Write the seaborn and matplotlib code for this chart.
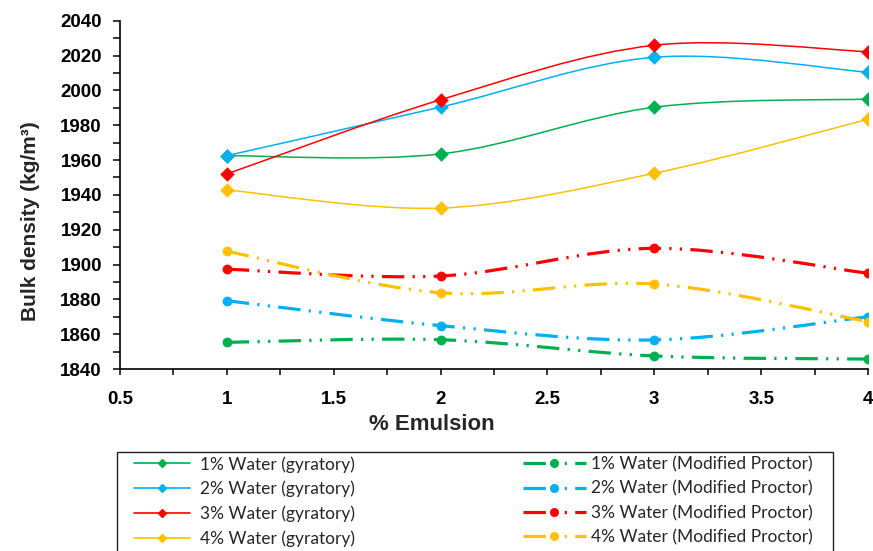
import numpy as np
import matplotlib
matplotlib.use("Agg")
import matplotlib.pyplot as plt
import seaborn as sns
from matplotlib.path import Path
from matplotlib.patches import PathPatch, Rectangle
from matplotlib.lines import Line2D
from matplotlib.ticker import MultipleLocator, FuncFormatter

# % emulsion content on the x axis
emulsion = [1, 2, 3, 4]

# Bulk density (kg/m3), gyratory compaction
gyr_1 = [1962.5, 1963.5, 1990.3, 1995.0]
gyr_2 = [1962.5, 1990.4, 2019.0, 2010.4]
gyr_3 = [1952.0, 1994.6, 2025.9, 2022.2]
gyr_4 = [1942.8, 1932.4, 1952.4, 1983.4]

# Bulk density (kg/m3), modified Proctor compaction
mp_1 = [1855.3, 1856.8, 1847.5, 1845.7]
mp_2 = [1879.2, 1864.9, 1856.7, 1870.0]
mp_3 = [1897.3, 1893.4, 1909.3, 1895.0]
mp_4 = [1907.6, 1883.8, 1888.8, 1867.2]

colors = ["#00B050", "#00B0F0", "#FF0000", "#FFC000"]
gyr_labels = ["1% Water (gyratory)", "2% Water (gyratory)",
              "3% Water (gyratory)", "4% Water (gyratory)"]
mp_labels = ["1% Water (Modified Proctor)", "2% Water (Modified Proctor)",
             "3% Water (Modified Proctor)", "4% Water (Modified Proctor)"]

sns.set_theme(style="ticks")
plt.rcParams["font.family"] = ["Liberation Sans", "DejaVu Sans"]

fig = plt.figure(figsize=(8.73, 5.51), dpi=100)
ax = fig.add_axes([120 / 873, 1 - 369 / 551, 748 / 873, (369 - 20.7) / 551])

PROCTOR_DASH = (0, (7.0, 2.6, 0.7, 2.6, 0.7, 2.6))


def smooth_path(x, y, t=1 / 6):
    """Cubic Bezier path through the points (spreadsheet-style smoothing)."""
    pts = np.column_stack([x, y]).astype(float)
    n = len(pts)
    verts, codes = [pts[0]], [Path.MOVETO]
    for i in range(n - 1):
        p0 = pts[max(i - 1, 0)]
        p1 = pts[i]
        p2 = pts[i + 1]
        p3 = pts[min(i + 2, n - 1)]
        verts += [p1 + (p2 - p0) * t, p2 - (p3 - p1) * t, p2]
        codes += [Path.CURVE4] * 3
    return Path(verts, codes)


gyr_series = [gyr_1, gyr_2, gyr_3, gyr_4]
mp_series = [mp_1, mp_2, mp_3, mp_4]

for vals, col in zip(mp_series, colors):
    ax.add_patch(PathPatch(smooth_path(emulsion, vals), fill=False,
                           edgecolor=col, lw=2.3, linestyle=PROCTOR_DASH,
                           capstyle="butt", zorder=2))
    sns.scatterplot(x=emulsion, y=vals, ax=ax, color=col, marker="o", s=50,
                    edgecolor=col, linewidth=0, zorder=3, legend=False)

for vals, col in zip(gyr_series, colors):
    ax.add_patch(PathPatch(smooth_path(emulsion, vals), fill=False,
                           edgecolor=col, lw=1.1, zorder=4))
    sns.scatterplot(x=emulsion, y=vals, ax=ax, color=col, marker="D", s=55,
                    edgecolor=col, linewidth=0, zorder=5, legend=False)

ax.set_xlim(0.5, 4)
ax.set_ylim(1840, 2040)
ax.xaxis.set_major_locator(MultipleLocator(0.5))
ax.xaxis.set_minor_locator(MultipleLocator(0.25))
ax.yaxis.set_major_locator(MultipleLocator(20))
ax.yaxis.set_minor_locator(MultipleLocator(10))
ax.xaxis.set_major_formatter(FuncFormatter(lambda v, p: f"{v:g}"))

for side in ["top", "right"]:
    ax.spines[side].set_visible(False)
for side in ["left", "bottom"]:
    ax.spines[side].set_color("black")
    ax.spines[side].set_linewidth(1.2)

ax.tick_params(axis="y", which="both", direction="out", length=5, width=1.1,
               color="black", pad=8, labelsize=13.5, labelcolor="black")
ax.tick_params(axis="x", which="both", direction="out", length=4, width=1.1,
               color="black", pad=12, labelsize=13.5, labelcolor="black")
for lab in ax.get_xticklabels() + ax.get_yticklabels():
    lab.set_fontweight("bold")

ax.set_xlabel("")
ax.set_ylabel("")
fig.text(432 / 873, 1 - 425 / 551, "% Emulsion", ha="center", va="center",
         fontsize=16, fontweight="bold")
fig.text(30 / 873, 1 - 221 / 551, "Bulk density (kg/m³)", ha="center",
         va="center", rotation=90, fontsize=15, fontweight="bold")

# Legend frame below the plot
fig.patches.append(Rectangle((117 / 873, 1 - 560 / 551), 716 / 873, 108 / 551,
                             transform=fig.transFigure, fill=False,
                             edgecolor="#222222", lw=1.0))

gyr_handles = [Line2D([], [], color=c, lw=1.2, marker="D", markersize=4.5)
               for c in colors]
mp_handles = [Line2D([], [], color=c, lw=2.3, linestyle=PROCTOR_DASH,
                     marker="o", markersize=5.5) for c in colors]

legend_font = {"family": ["Lato", "DejaVu Sans"], "size": 12.5}
leg1 = fig.legend(gyr_handles, gyr_labels, loc="upper left",
                  bbox_to_anchor=(134 / 873, 1 - 456 / 551), borderaxespad=0,
                  borderpad=0, frameon=False, handlelength=3.2,
                  handletextpad=0.6, labelspacing=0.48, prop=legend_font)
leg2 = fig.legend(mp_handles, mp_labels, loc="upper left",
                  bbox_to_anchor=(523 / 873, 1 - 456 / 551), borderaxespad=0,
                  borderpad=0, frameon=False, handlelength=3.6,
                  handletextpad=0.3, labelspacing=0.48, prop=legend_font)

fig.savefig("out.png", dpi=100)
